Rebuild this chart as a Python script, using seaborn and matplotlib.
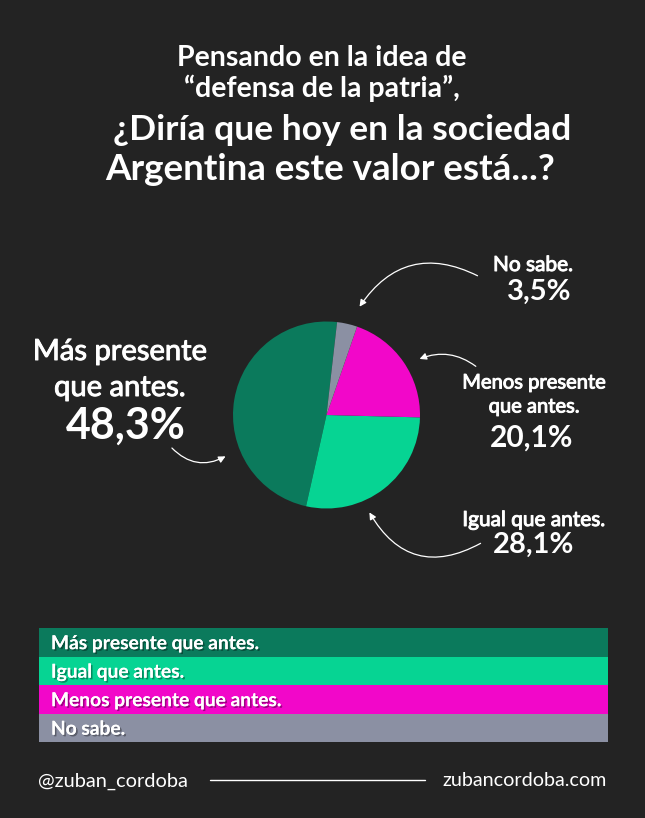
import numpy as np
import matplotlib
matplotlib.use("Agg")
import matplotlib.pyplot as plt
import matplotlib.patheffects as pe
from matplotlib.lines import Line2D
import seaborn as sns

# Datos de la encuesta
categorias = ["Más presente que antes.", "Igual que antes.",
              "Menos presente que antes.", "No sabe."]
porcentajes = [48.3, 28.1, 20.1, 3.5]
etiquetas_pct = ["48,3%", "28,1%", "20,1%", "3,5%"]
colores = ["#0b7a5c", "#06d493", "#f207c9", "#8b90a3"]

titulo_chico = ["Pensando en la idea de", "\u201cdefensa de la patria\u201d,"]
titulo_grande = ["¿Diría que hoy en la sociedad", "Argentina este valor está...?"]

FONDO = "#232323"
W, H = 645, 818

sns.set_theme(style="dark", rc={"figure.facecolor": FONDO, "axes.facecolor": FONDO})
plt.rcParams["font.family"] = ["Lato", "DejaVu Sans"]


def fx(px):
    return px / W


def fy(py):
    # coordenada y desde arriba -> fraccion de figura
    return 1 - py / H


fig = plt.figure(figsize=(W / 100, H / 100), dpi=100)

# Titulo
for txt, y in zip(titulo_chico, [58, 88]):
    fig.text(fx(322), fy(y), txt, color="white", fontsize=20.5, fontweight="bold",
             ha="center", va="center")
fig.text(fx(342), fy(130), titulo_grande[0], color="white", fontsize=25.5, fontweight="bold",
         ha="center", va="center")
fig.text(fx(330), fy(169), titulo_grande[1], color="white", fontsize=26.5, fontweight="bold",
         ha="center", va="center")

# Torta
cx, cy, r = 326.5, 415, 93.5
ax = fig.add_axes([fx(cx - r), fy(cy + r), (2 * r) / W, (2 * r) / H])
ax.pie(porcentajes, colors=colores, startangle=83.5, counterclock=True,
       radius=1, wedgeprops={"linewidth": 0})
ax.set_xlim(-1, 1)
ax.set_ylim(-1, 1)
ax.set_aspect("equal")
ax.axis("off")

# Etiquetas alrededor de la torta (trazo extra para peso "medium")
blanco = "white"
medio = [pe.withStroke(linewidth=0.7, foreground=blanco)]
fig.text(fx(120), fy(352), "Más presente", color=blanco, fontsize=21, ha="center", va="center",
         path_effects=medio)
fig.text(fx(120), fy(388), "que antes.", color=blanco, fontsize=21, ha="center", va="center",
         path_effects=medio)
fig.text(fx(126), fy(426), etiquetas_pct[0], color=blanco, fontsize=31, fontweight="bold",
         ha="center", va="center")

fig.text(fx(533), fy(265), "No sabe.", color=blanco, fontsize=15, ha="center", va="center",
         path_effects=medio)
fig.text(fx(539), fy(292), etiquetas_pct[3], color=blanco, fontsize=21, fontweight="bold",
         ha="center", va="center")

fig.text(fx(534), fy(383), "Menos presente", color=blanco, fontsize=14.5, ha="center", va="center",
         path_effects=medio)
fig.text(fx(534), fy(407), "que antes.", color=blanco, fontsize=14.5, ha="center", va="center",
         path_effects=medio)
fig.text(fx(532), fy(438), etiquetas_pct[2], color=blanco, fontsize=21.5, fontweight="bold",
         ha="center", va="center")

fig.text(fx(534), fy(520), "Igual que antes.", color=blanco, fontsize=15, ha="center", va="center",
         path_effects=medio)
fig.text(fx(534), fy(545), etiquetas_pct[1], color=blanco, fontsize=21, fontweight="bold",
         ha="center", va="center")

# Flechas curvas
flechas = [
    ((170, 446), (228, 455), 0.4),
    ((480, 277), (358, 309), 0.45),
    ((478, 368), (417, 360), 0.3),
    ((483, 542), (368, 510), -0.5),
]
for (tx, ty), (hx, hy), rad in flechas:
    fig.add_artist(matplotlib.patches.FancyArrowPatch(
        (tx, H - ty), (hx, H - hy), transform=None,
        arrowstyle="-|>,head_length=4,head_width=2",
        connectionstyle=f"arc3,rad={rad}", color=blanco, lw=0.9,
        mutation_scale=1))

# Barras de referencia
axl = fig.add_axes([fx(39), fy(742), (608 - 39) / W, (742 - 628) / H])
sns.barplot(x=[1] * len(categorias), y=categorias, hue=categorias, palette=colores,
            width=1.0, orient="h", legend=False, ax=axl, saturation=1,
            linewidth=0, edgecolor="none")
axl.set_xlim(0, 1)
axl.set_ylim(len(categorias) - 0.5, -0.5)
axl.axis("off")
sombra = [pe.withSimplePatchShadow(offset=(1.2, -1.2), shadow_rgbFace="black", alpha=0.35), pe.Normal()]
for i, cat in enumerate(categorias):
    axl.text(0.021, i + 0.05, cat, color=blanco, fontsize=13.8, fontweight="bold",
             va="center", ha="left", path_effects=sombra)

# Pie de pagina
fig.text(fx(38), fy(781), "@zuban_cordoba", color=blanco, fontsize=14.4, ha="left", va="center")
fig.text(fx(607), fy(781), "zubancordoba.com", color=blanco, fontsize=14.2, ha="right", va="center")
fig.add_artist(Line2D([fx(210), fx(425)], [fy(780), fy(780)], color=blanco, lw=1))

fig.savefig("out.png", dpi=100, facecolor=FONDO)
